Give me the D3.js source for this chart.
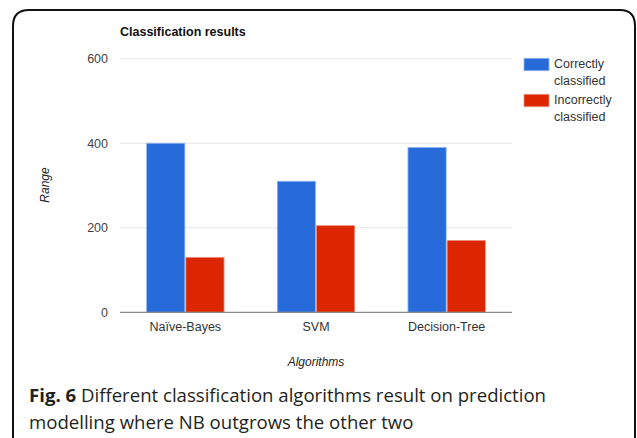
<!DOCTYPE html>
<html><head><meta charset="utf-8">
<script src="https://cdn.jsdelivr.net/npm/d3@7"></script>
<style>
body{margin:0;background:#fff;}
svg{display:block;}
</style></head>
<body>
<svg id="chart" width="637" height="438"></svg>
<script>
const categories = ["Naïve-Bayes", "SVM", "Decision-Tree"];
const seriesNames = ["Correctly classified", "Incorrectly classified"];
const correctValues = [400, 310, 390];
const incorrectValues = [130, 205, 170];
const yTicks = [0, 200, 400, 600];
const colors = ["#276bdb", "#dc2600"];

(function () {
const svg = d3.select("#chart");
// frame
svg.append("path")
  .attr("d", "M13,440 L13,26 Q13,10 29,10 L620,10 Q635,10 635,26 L635,440")
  .attr("fill", "none").attr("stroke", "#111").attr("stroke-width", 2);

const pLeft = 120, pRight = 512, pTop = 58.7, pBottom = 312.3;
const x = d3.scaleBand().domain(categories).range([pLeft, pRight]).paddingInner(0.4).paddingOuter(0.2);
const y = d3.scaleLinear().domain([0, 600]).range([pBottom, pTop]);
const inner = d3.scaleBand().domain([0, 1]).range([0, x.bandwidth()]);

// gridlines
svg.append("g").selectAll("line").data(yTicks.filter(d => d > 0)).join("line")
  .attr("x1", pLeft).attr("x2", pRight)
  .attr("y1", d => y(d)).attr("y2", d => y(d))
  .attr("stroke", "#e6e6e6").attr("stroke-width", 1);

// y tick labels
svg.append("g").selectAll("text").data(yTicks).join("text")
  .attr("x", 108).attr("y", d => y(d) + 4.5)
  .attr("text-anchor", "end")
  .attr("font-family", "Liberation Sans, Arial, sans-serif").attr("font-size", 12.5)
  .attr("fill", "#444").text(d => d);

// bars
const series = [correctValues, incorrectValues];
series.forEach((vals, si) => {
  svg.append("g").selectAll("rect").data(categories).join("rect")
    .attr("x", (c) => x(c) + inner(si) + 0.5)
    .attr("y", (c, i) => y(vals[i]))
    .attr("width", inner.bandwidth() - 1)
    .attr("height", (c, i) => y(0) - y(vals[i]))
    .attr("fill", colors[si])
    .attr("stroke", si === 0 ? "#8fb3ee" : "#ef8f80").attr("stroke-width", 0.8);
});

// baseline
svg.append("line").attr("x1", pLeft).attr("x2", pRight).attr("y1", pBottom).attr("y2", pBottom)
  .attr("stroke", "#888").attr("stroke-width", 1.2);

// category labels
svg.append("g").selectAll("text").data(categories).join("text")
  .attr("x", c => x(c) + x.bandwidth() / 2).attr("y", 331)
  .attr("text-anchor", "middle")
  .attr("font-family", "Liberation Sans, Arial, sans-serif").attr("font-size", 12.5)
  .attr("fill", "#333").text(c => c);

// title
svg.append("text").attr("x", 120).attr("y", 36)
  .attr("font-family", "Liberation Sans, Arial, sans-serif").attr("font-size", 12.5)
  .attr("font-weight", "bold").attr("fill", "#111").text("Classification results");

// axis titles
svg.append("text").attr("x", 316).attr("y", 366).attr("text-anchor", "middle")
  .attr("font-family", "Liberation Sans, Arial, sans-serif").attr("font-size", 12)
  .attr("font-style", "italic").attr("fill", "#222").text("Algorithms");
svg.append("text").attr("transform", "translate(49,185) rotate(-90)").attr("text-anchor", "middle")
  .attr("font-family", "Liberation Sans, Arial, sans-serif").attr("font-size", 12)
  .attr("font-style", "italic").attr("fill", "#222").text("Range");

// legend
const legendLines = [["Correctly", "classified"], ["Incorrectly", "classified"]];
seriesNames.forEach((name, i) => {
  const gy = 58.3 + i * 36;
  svg.append("rect").attr("x", 524).attr("y", gy).attr("width", 25).attr("height", 12.4)
    .attr("fill", colors[i]).attr("stroke", i === 0 ? "#8fb3ee" : "#ef8f80").attr("stroke-width", 0.8);
  const t = svg.append("text").attr("x", 554).attr("y", gy + 10)
    .attr("font-family", "Liberation Sans, Arial, sans-serif").attr("font-size", 12.5).attr("fill", "#333");
  legendLines[i].forEach((ln, j) => {
    t.append("tspan").attr("x", 554).attr("dy", j === 0 ? 0 : 16.3).text(ln);
  });
});

// caption
const cap = svg.append("text").attr("font-family", "Open Sans, Noto Sans, sans-serif")
  .attr("font-size", 18.6).attr("fill", "#231f20");
const l1 = cap.append("tspan").attr("x", 29).attr("y", 401.5);
l1.append("tspan").attr("font-weight", "bold").text("Fig. 6");
l1.append("tspan").text(" Different classification algorithms result on prediction");
cap.append("tspan").attr("x", 29).attr("y", 429).text("modelling where NB outgrows the other two");
})();
</script>
</body></html>
